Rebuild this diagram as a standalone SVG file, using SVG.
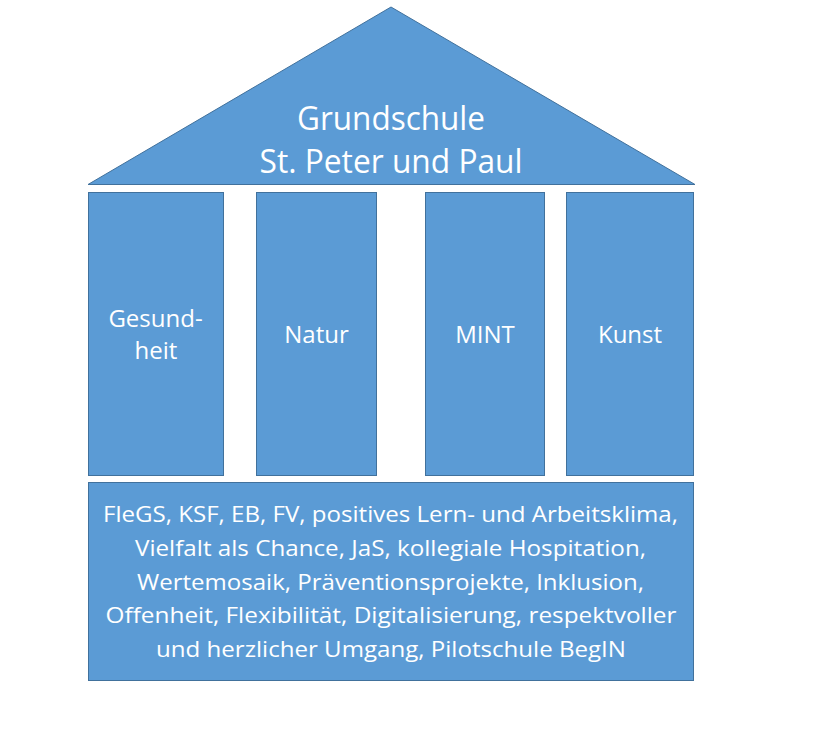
<svg xmlns="http://www.w3.org/2000/svg" width="828" height="736" viewBox="0 0 828 736">
<style>
.shape{fill:#5B9BD5;stroke:#41719C;stroke-width:1}
.t{fill:#FFFFFF;font-family:"Open Sans","Noto Sans","Liberation Sans",sans-serif;text-anchor:middle}
.title{font-size:32px}
.pil{font-size:24px}
.base{font-size:22px}
</style>
<rect x="0" y="0" width="828" height="736" fill="#FFFFFF"/>
<g id="roof">
<polygon class="shape" points="88,184.5 391,7 695,184.5"/>
<text class="t title" x="391" y="130" textLength="188" lengthAdjust="spacingAndGlyphs">Grundschule</text>
<text class="t title" x="391" y="173" textLength="263" lengthAdjust="spacingAndGlyphs">St. Peter und Paul</text>
</g>
<g id="pillar-gesundheit">
<rect class="shape" x="88.5" y="192.5" width="135" height="283"/>
<text class="t pil" x="155.5" y="327">Gesund-</text>
<text class="t pil" x="156" y="359">heit</text>
</g>
<g id="pillar-natur">
<rect class="shape" x="256.5" y="192.5" width="120" height="283"/>
<text class="t pil" x="316.5" y="343">Natur</text>
</g>
<g id="pillar-mint">
<rect class="shape" x="425.5" y="192.5" width="119" height="283"/>
<text class="t pil" x="485" y="343">MINT</text>
</g>
<g id="pillar-kunst">
<rect class="shape" x="566.5" y="192.5" width="127" height="283"/>
<text class="t pil" x="630" y="343">Kunst</text>
</g>
<g id="foundation">
<rect class="shape" x="88.5" y="482.5" width="605" height="198"/>
<text class="t base" x="390.5" y="522" textLength="575" lengthAdjust="spacingAndGlyphs">FleGS, KSF, EB, FV, positives Lern- und Arbeitsklima,</text>
<text class="t base" x="390.5" y="556" textLength="511" lengthAdjust="spacingAndGlyphs">Vielfalt als Chance, JaS, kollegiale Hospitation,</text>
<text class="t base" x="390.5" y="590" textLength="507" lengthAdjust="spacingAndGlyphs">Wertemosaik, Präventionsprojekte, Inklusion,</text>
<text class="t base" x="391" y="623" textLength="571" lengthAdjust="spacingAndGlyphs">Offenheit, Flexibilität, Digitalisierung, respektvoller</text>
<text class="t base" x="391" y="657" textLength="470" lengthAdjust="spacingAndGlyphs">und herzlicher Umgang, Pilotschule BegIN</text>
</g>
<g id="connectors"></g>
</svg>
